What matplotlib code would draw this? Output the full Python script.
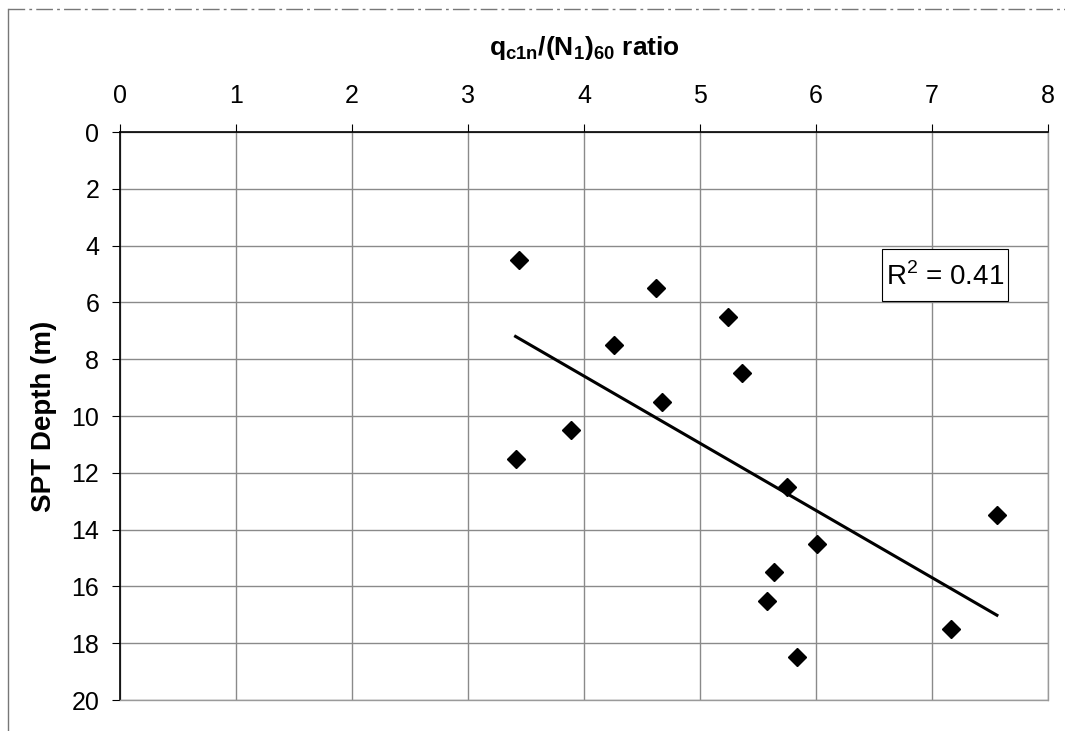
import numpy as np
import matplotlib
matplotlib.use("Agg")
import matplotlib.pyplot as plt
from matplotlib.lines import Line2D
from matplotlib.patches import Rectangle

# Data
ratio = [3.44, 4.62, 5.24, 4.26, 5.36, 4.67, 3.89, 3.41,
         5.75, 7.56, 6.01, 5.64, 5.58, 7.16, 5.84]
depth = [4.5, 5.5, 6.5, 7.5, 8.5, 9.5, 10.5, 11.5,
         12.5, 13.5, 14.5, 15.5, 16.5, 17.5, 18.5]
x_ticks = [0, 1, 2, 3, 4, 5, 6, 7, 8]
y_ticks = [0, 2, 4, 6, 8, 10, 12, 14, 16, 18, 20]
r2_label = "R$^2$ = 0.41"

plt.rcParams["font.family"] = ["Liberation Sans", "DejaVu Sans"]
plt.rcParams["mathtext.fontset"] = "custom"
plt.rcParams["mathtext.rm"] = "Liberation Sans"
plt.rcParams["mathtext.bf"] = "Liberation Sans:bold"

fig = plt.figure(figsize=(10.65, 7.31), dpi=100)
ax = fig.add_axes([0.1127, 0.0424, 0.984 - 0.1127, 0.8194 - 0.0424])

# Scatter points
ax.plot(ratio, depth, linestyle="none", marker="D", markersize=9,
        color="black", zorder=3)

# Linear trendline (depth on ratio), drawn over the data range
slope, intercept = np.polyfit(ratio, depth, 1)
xs = np.array([min(ratio), max(ratio)])
ax.plot(xs, slope * xs + intercept, color="black", linewidth=2.2, zorder=2)

# R^2 label box
ax.add_patch(Rectangle((6.566, 4.13), 7.655 - 6.566, 5.95 - 4.13,
                       facecolor="white", edgecolor="black", linewidth=0.8,
                       zorder=4))
ax.text(7.11, 5.1, r2_label, fontsize=20, ha="center", va="center", zorder=5)

ax.set_xlim(0, 8)
ax.set_ylim(20, 0)
ax.set_xticks(x_ticks)
ax.set_yticks(y_ticks)
ax.xaxis.tick_top()
ax.xaxis.set_label_position("top")
ax.tick_params(labelsize=18, direction="out", length=6, width=0.8, pad=9)
ax.tick_params(axis="x", pad=11)

ax.set_xlabel(r"$\mathbf{q_{c1n}/(N_1)_{60}}$ ratio", fontsize=19,
              fontweight="bold", labelpad=21)
ax.set_ylabel("SPT Depth (m)", fontsize=20, fontweight="bold", labelpad=10)

ax.grid(True, color="#8a8a8a", linewidth=1.0)
ax.set_axisbelow(True)
for side in ["left", "top"]:
    ax.spines[side].set_color("black")
    ax.spines[side].set_linewidth(1.2)
for side in ["right", "bottom"]:
    ax.spines[side].set_color("#9a9a9a")
    ax.spines[side].set_linewidth(1.0)
    ax.spines[side].set_linestyle((0, (2, 1)))

# Outer chart frame (top and left edges visible in the scan)
fig.add_artist(Line2D([8 / 1065, 1.0], [1 - 9 / 731, 1 - 9 / 731],
                      transform=fig.transFigure, color="#777777",
                      linewidth=1.0, linestyle=(0, (12, 3, 2, 3))))
fig.add_artist(Line2D([8 / 1065, 8 / 1065], [0.0, 1 - 9 / 731],
                      transform=fig.transFigure, color="#777777",
                      linewidth=1.0))

fig.savefig("out.png", dpi=100)
